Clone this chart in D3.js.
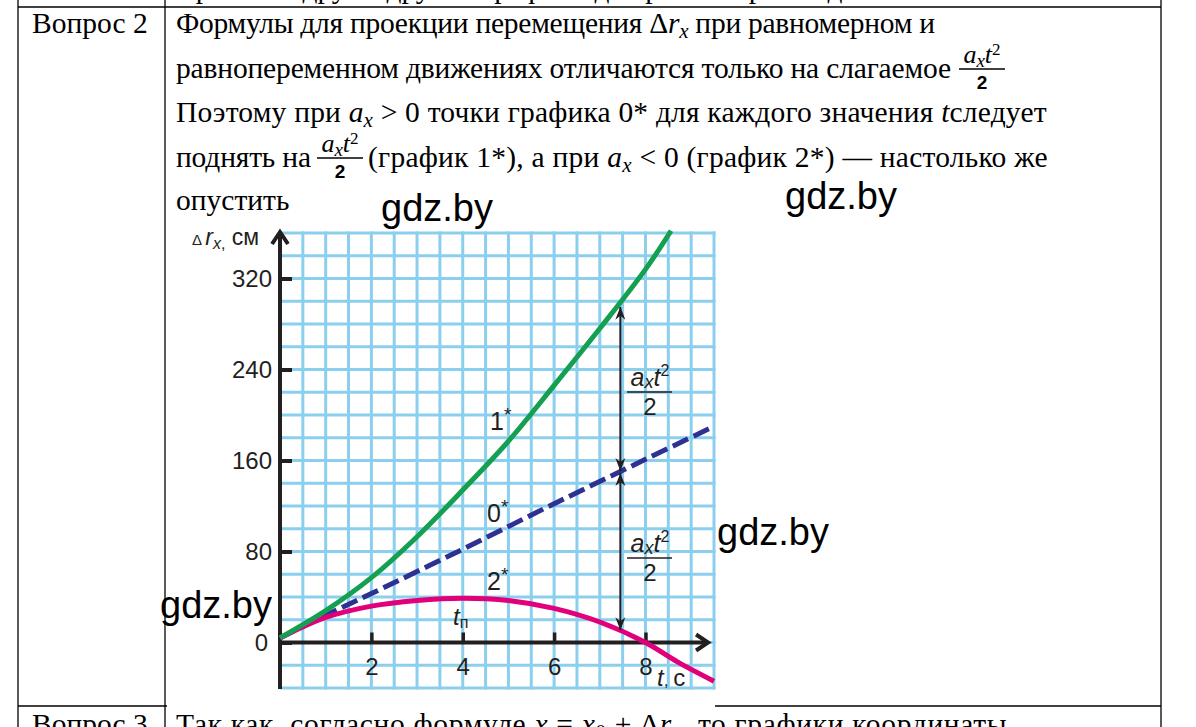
<!DOCTYPE html>
<html><head><meta charset="utf-8">
<script src="https://cdn.jsdelivr.net/npm/d3@7"></script>
<style>body{margin:0;background:#fff}svg{display:block}</style>
</head><body>
<svg id="c" width="1196" height="727"></svg>
<script>
// ---- data ----
const tGreen = [0, 1, 2, 3, 4, 5, 6, 7, 8, 8.56];
const vGreen = [4, 28, 57, 93, 134, 177, 226, 276, 328, 362];
const tBlue  = [0, 1, 2, 4, 6, 8, 9.5];
const vBlue  = [4, 24, 43, 82, 122, 161, 190];
const tPink  = [0, 1, 2, 3, 4, 5, 6, 7, 8, 8.7, 9.5];
const vPink  = [4, 22, 32, 37, 39, 37, 30, 18, 0, -17, -34];
const yTickValues = [0, 80, 160, 240, 320];
const xTickValues = [2, 4, 6, 8];
const arrowT = 7.45;
const arrowLevels = [296, 150, 10];
const curveLabels = ["1", "0", "2"];

const svg = d3.select("#c");
const serif = "'Liberation Serif','Times New Roman',serif";
const sans = "'Liberation Sans',Arial,sans-serif";
const ink = "#231f20";
const FS = 29.5;

// ---- table lines ----
const tbl = svg.append("g").attr("stroke", "#000").attr("stroke-width", 1.3);
tbl.append("line").attr("x1", 18).attr("x2", 1161).attr("y1", 7).attr("y2", 7);
tbl.append("line").attr("x1", 18).attr("x2", 1161).attr("y1", 706).attr("y2", 706);
[18, 165, 1161].forEach(xx => tbl.append("line").attr("x1", xx).attr("x2", xx).attr("y1", 0).attr("y2", 727));

// partially visible previous row text
svg.append("text").attr("x", 176).attr("y", -2).attr("font-family", serif).attr("font-size", FS)
  .text("Сравните друг с другом графики для равномерного движения");

// ---- body text ----
function textLine(y, parts, x0, xEnd) {
  const t = svg.append("text").attr("x", x0 || 176).attr("y", y).attr("font-family", serif)
    .attr("font-size", FS).attr("fill", "#000");
  parts.forEach(p => {
    const s = t.append("tspan").text(p.s);
    if (p.i) s.attr("font-style", "italic");
    if (p.fs) s.attr("font-size", p.fs);
    if (p.dy) s.attr("dy", p.dy);
  });
  if (xEnd) {
    const node = t.node();
    const w = node.getComputedTextLength();
    const n = node.textContent.length;
    const ls = (xEnd - (x0 || 176) - w) / Math.max(1, n - 1);
    t.attr("letter-spacing", ls.toFixed(3));
  }
  return t;
}
svg.append("text").attr("x", 32).attr("y", 33).attr("font-family", serif).attr("font-size", FS).text("Вопрос 2");
svg.append("text").attr("x", 32).attr("y", 734).attr("font-family", serif).attr("font-size", FS).text("Вопрос 3");

textLine(33, [
  {s: "Формулы для проекции перемещения "}, {s: "Δ"}, {s: "r", i: 1},
  {s: "x", i: 1, fs: 21, dy: 5}, {s: " при равномерном и", dy: -5}
], 176, 935);
textLine(78, [{s: "равнопеременном движениях отличаются только на слагаемое"}], 176, 951);
textLine(122, [
  {s: "Поэтому при "}, {s: "a", i: 1}, {s: "x", i: 1, fs: 21, dy: 5},
  {s: "  >  0", dy: -5}, {s: " точки графика 0* для каждого значения "}, {s: "t", i: 1}, {s: "следует"}
], 176, 1047);
textLine(167, [{s: "поднять на"}], 176, 311);
textLine(167, [
  {s: "(график 1*), а при "}, {s: "a", i: 1}, {s: "x", i: 1, fs: 21, dy: 5},
  {s: "  <  0", dy: -5}, {s: " (график 2*) — настолько же"}
], 368, 1048);
textLine(210, [{s: "опустить"}]);
textLine(734, [
  {s: "Так как, согласно формуле  "}, {s: "x", i: 1}, {s: "  =  "}, {s: "x", i: 1},
  {s: "0", fs: 21, dy: 5}, {s: "  +  ", dy: -5}, {s: "Δ"}, {s: "r", i: 1},
  {s: "x", i: 1, fs: 21, dy: 5}, {s: ", то графики координаты", dy: -5}
], 176, 1010);

// inline fractions in text
function textFrac(cx, barY) {
  const g = svg.append("g").attr("font-family", serif).attr("fill", "#000");
  const n = g.append("text").attr("x", cx).attr("y", barY - 6).attr("text-anchor", "middle").attr("font-size", 26);
  n.append("tspan").attr("font-style", "italic").text("a");
  n.append("tspan").attr("font-style", "italic").attr("font-size", 19).attr("dy", 4).text("x");
  n.append("tspan").attr("font-style", "italic").attr("dy", -4).text("t");
  n.append("tspan").attr("font-size", 17).attr("dy", -8).text("2");
  g.append("line").attr("x1", cx - 23).attr("x2", cx + 23).attr("y1", barY).attr("y2", barY)
    .attr("stroke", "#000").attr("stroke-width", 1.4);
  g.append("text").attr("x", cx).attr("y", barY + 20).attr("text-anchor", "middle")
    .attr("font-family", sans).attr("font-weight", "bold").attr("font-size", 19).text("2");
}
textFrac(982, 69);
textFrac(340, 158);

// ---- chart ----
const x = d3.scaleLinear().domain([0, 9.5]).range([280, 714]);
const y = d3.scaleLinear().domain([-40, 360]).range([688, 233]);

svg.append("rect").attr("x", 167).attr("y", 224).attr("width", 548).attr("height", 487).attr("fill", "#fff");

const grid = svg.append("g").attr("stroke", "#8bcfee").attr("stroke-width", 3);
d3.range(0.5, 9.51, 0.5).forEach(t => grid.append("line")
  .attr("x1", x(t)).attr("x2", x(t)).attr("y1", y(360) - 1.5).attr("y2", y(-40) + 1.5));
d3.range(-40, 361, 20).forEach(v => grid.append("line")
  .attr("x1", x(0)).attr("x2", x(9.5) + 1.5).attr("y1", y(v)).attr("y2", y(v)));

// axes
const ax = svg.append("g").attr("stroke", ink).attr("stroke-width", 4).attr("fill", "none");
ax.append("line").attr("x1", x(0)).attr("x2", x(0)).attr("y1", y(-40) + 1).attr("y2", y(360) - 1);
ax.append("path").attr("d", `M${x(0) - 8},${y(360) + 11}L${x(0)},${y(360) - 1}L${x(0) + 8},${y(360) + 11}`);
ax.append("line").attr("x1", x(0)).attr("x2", x(9.37)).attr("y1", y(0)).attr("y2", y(0));
ax.append("path").attr("d", `M${x(9.37) - 12},${y(0) - 8}L${x(9.37)},${y(0)}L${x(9.37) - 12},${y(0) + 8}`);

const yAxis = svg.append("g").attr("transform", `translate(${x(0)},0)`)
  .call(d3.axisLeft(y).tickValues(yTickValues).tickSize(-12).tickPadding(8));
const xAxis = svg.append("g").attr("transform", `translate(0,${y(0)})`)
  .call(d3.axisBottom(x).tickValues(xTickValues).tickSize(-10).tickPadding(15));
[yAxis, xAxis].forEach(a => {
  a.select(".domain").remove();
  a.selectAll(".tick line").attr("stroke", ink).attr("stroke-width", 4);
  a.selectAll(".tick text").attr("font-family", sans).attr("font-size", 24).attr("fill", ink);
});
xAxis.selectAll(".tick line").attr("stroke-width", 3.5);
yAxis.selectAll(".tick text").filter(d => d === 0).attr("x", -12);

// curves
const line = d3.line().x(d => x(d[0])).y(d => y(d[1])).curve(d3.curveCatmullRom);
svg.append("path").datum(d3.zip(tBlue, vBlue)).attr("d", line).attr("fill", "none")
  .attr("stroke", "#2e3192").attr("stroke-width", 5).attr("stroke-dasharray", "17,6");
svg.append("path").datum(d3.zip(tPink, vPink)).attr("d", line).attr("fill", "none")
  .attr("stroke", "#e2007a").attr("stroke-width", 5);
svg.append("path").datum(d3.zip(tGreen, vGreen)).attr("d", line).attr("fill", "none")
  .attr("stroke", "#14a050").attr("stroke-width", 5);

// double arrows
const defs = svg.append("defs");
defs.append("marker").attr("id", "ah").attr("viewBox", "-14 -6 16 12").attr("refX", 0).attr("refY", 0)
  .attr("markerWidth", 16).attr("markerHeight", 12).attr("markerUnits", "userSpaceOnUse")
  .attr("orient", "auto-start-reverse")
  .append("path").attr("d", "M0,0L-13,-5L-9,0L-13,5Z").attr("fill", ink);
[[arrowLevels[0], arrowLevels[1]], [arrowLevels[1], arrowLevels[2]]].forEach(([a, b]) => {
  svg.append("line").attr("x1", x(arrowT)).attr("x2", x(arrowT))
    .attr("y1", y(a) + 1).attr("y2", y(b) - 1)
    .attr("stroke", ink).attr("stroke-width", 2)
    .attr("marker-start", "url(#ah)").attr("marker-end", "url(#ah)");
});

// chart fractions
function chartFrac(cx, barY) {
  const g = svg.append("g").attr("font-family", sans).attr("fill", ink);
  const n = g.append("text").attr("x", cx).attr("y", barY - 6).attr("text-anchor", "middle").attr("font-size", 25);
  n.append("tspan").attr("font-style", "italic").text("a");
  n.append("tspan").attr("font-style", "italic").attr("font-size", 18).attr("dy", 2).text("x");
  n.append("tspan").attr("font-style", "italic").attr("dy", -2).text("t");
  n.append("tspan").attr("font-size", 16).attr("dy", -10).text("2");
  g.append("line").attr("x1", cx - 23).attr("x2", cx + 22).attr("y1", barY).attr("y2", barY)
    .attr("stroke", ink).attr("stroke-width", 1.5);
  g.append("text").attr("x", cx).attr("y", barY + 23).attr("text-anchor", "middle").attr("font-size", 24).text("2");
}
chartFrac(650, 392);
chartFrac(650, 558);

// curve labels
const labelPos = [[490, 430], [487, 522], [487, 590]];
curveLabels.forEach((s, i) => {
  const t = svg.append("text").attr("x", labelPos[i][0]).attr("y", labelPos[i][1])
    .attr("font-family", sans).attr("font-size", 25).attr("fill", ink);
  t.append("tspan").text(s);
  t.append("tspan").attr("font-size", 19).attr("dy", -9).text("*");
});

// t_п
const tp = svg.append("text").attr("x", 453).attr("y", 625).attr("font-family", sans).attr("font-size", 24).attr("fill", ink);
tp.append("tspan").attr("font-style", "italic").text("t");
tp.append("tspan").attr("font-size", 16).attr("dy", 3).text("п");

// axis titles
const yl = svg.append("text").attr("x", 192).attr("y", 245).attr("font-family", sans).attr("fill", ink).attr("font-size", 22);
yl.append("tspan").attr("font-size", 15).text("Δ ");
yl.append("tspan").attr("font-style", "italic").attr("font-size", 23).text("r");
yl.append("tspan").attr("font-style", "italic").attr("font-size", 16).attr("dy", 4).text("x");
yl.append("tspan").attr("font-size", 16).text(",");
yl.append("tspan").attr("dy", -4).attr("font-size", 23).text(" см");

const xl = svg.append("text").attr("x", 657).attr("y", 686).attr("font-family", sans).attr("fill", ink).attr("font-size", 24);
xl.append("tspan").attr("font-style", "italic").text("t");
xl.append("tspan").attr("font-size", 17).text(", ");
xl.append("tspan").text("с");

// watermarks
[[381, 221], [785, 209], [717, 545], [160, 618]].forEach(([wx, wy]) =>
  svg.append("text").attr("x", wx).attr("y", wy).attr("font-family", sans).attr("font-size", 38)
    .attr("fill", "#000").text("gdz.by"));
</script>
</body></html>
